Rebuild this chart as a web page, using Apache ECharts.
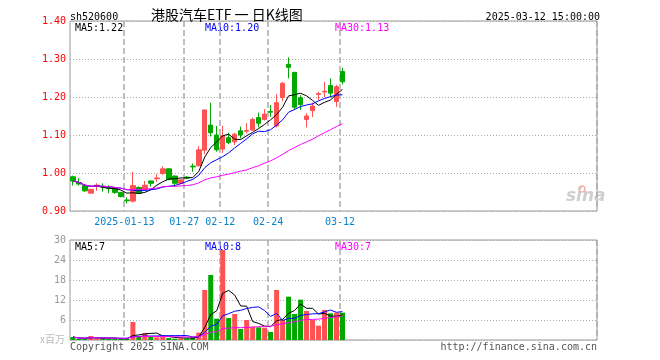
<!DOCTYPE html>
<html><head><meta charset="utf-8">
<script src="https://cdn.jsdelivr.net/npm/echarts@6/dist/echarts.min.js"></script>
<style>html,body{margin:0;padding:0;background:#fff}#c{width:660px;height:360px}</style>
</head><body><div id="c"></div>
<script>
const dates = ['2024-12-30','2024-12-31','2025-01-02','2025-01-03','2025-01-06','2025-01-07','2025-01-08','2025-01-09','2025-01-10','2025-01-13','2025-01-14','2025-01-15','2025-01-16','2025-01-17','2025-01-20','2025-01-21','2025-01-22','2025-01-23','2025-01-24','2025-01-27','2025-02-05','2025-02-06','2025-02-07','2025-02-10','2025-02-11','2025-02-12','2025-02-13','2025-02-14','2025-02-17','2025-02-18','2025-02-19','2025-02-20','2025-02-21','2025-02-24','2025-02-25','2025-02-26','2025-02-27','2025-02-28','2025-03-03','2025-03-04','2025-03-05','2025-03-06','2025-03-07','2025-03-10','2025-03-11','2025-03-12'];
const opens  = [0.990,0.975,0.967,0.947,0.966,0.965,0.961,0.960,0.949,0.929,0.926,0.962,0.957,0.979,0.985,0.999,1.011,0.992,0.973,0.989,1.018,1.019,1.060,1.126,1.100,1.063,1.093,1.082,1.111,1.110,1.113,1.146,1.141,1.162,1.124,1.199,1.286,1.265,1.198,1.141,1.164,1.207,1.213,1.230,1.188,1.267];
const closes = [0.979,0.971,0.953,0.957,0.968,0.963,0.959,0.949,0.938,0.927,0.967,0.947,0.968,0.973,0.987,1.011,0.983,0.973,0.982,0.987,1.016,1.061,1.166,1.106,1.061,1.098,1.080,1.102,1.100,1.112,1.141,1.131,1.155,1.160,1.185,1.236,1.278,1.173,1.180,1.150,1.176,1.209,1.215,1.210,1.227,1.240];
const lows   = [0.967,0.967,0.950,0.945,0.953,0.951,0.947,0.945,0.936,0.920,0.922,0.945,0.955,0.964,0.977,0.995,0.981,0.964,0.970,0.984,1.003,1.017,1.050,1.096,1.056,1.053,1.076,1.074,1.091,1.104,1.111,1.120,1.138,1.148,1.120,1.189,1.249,1.166,1.166,1.120,1.147,1.192,1.199,1.199,1.174,1.233];
const highs  = [0.993,0.986,0.970,0.958,0.973,0.973,0.968,0.962,0.950,0.936,1.003,0.965,0.979,0.980,0.997,1.017,1.012,0.993,0.984,0.992,1.025,1.071,1.166,1.185,1.124,1.124,1.106,1.106,1.122,1.131,1.146,1.159,1.168,1.179,1.208,1.240,1.304,1.265,1.205,1.157,1.185,1.214,1.240,1.249,1.232,1.277];
const ma5  = [0.979,0.975,0.968,0.965,0.966,0.962,0.960,0.959,0.955,0.947,0.948,0.946,0.949,0.956,0.968,0.977,0.984,0.985,0.987,0.987,0.988,1.004,1.042,1.067,1.082,1.098,1.102,1.089,1.088,1.098,1.107,1.117,1.128,1.140,1.154,1.173,1.203,1.206,1.210,1.203,1.191,1.178,1.186,1.192,1.207,1.220];
const ma10 = [0.979,0.975,0.968,0.965,0.966,0.965,0.964,0.962,0.960,0.956,0.955,0.953,0.954,0.956,0.958,0.963,0.965,0.967,0.972,0.978,0.983,0.994,1.014,1.027,1.035,1.043,1.053,1.066,1.078,1.090,1.103,1.110,1.109,1.114,1.126,1.140,1.160,1.167,1.175,1.179,1.182,1.190,1.196,1.201,1.205,1.206];
const ma30 = [0.979,0.975,0.968,0.965,0.966,0.965,0.964,0.962,0.960,0.956,0.957,0.957,0.957,0.959,0.960,0.964,0.965,0.965,0.966,0.967,0.969,0.974,0.982,0.987,0.990,0.994,0.997,1.001,1.005,1.008,1.014,1.019,1.026,1.032,1.040,1.049,1.059,1.067,1.075,1.082,1.089,1.098,1.106,1.114,1.122,1.130];
const volumes = [0.9,0.3,0.4,1.2,0.5,0.5,0.3,0.3,0.4,0.3,5.4,1.2,2.0,1.0,0.8,1.0,0.6,0.4,0.5,0.5,0.8,2.2,15.0,19.5,6.4,27.0,6.6,7.8,3.3,6.0,4.0,3.8,3.7,2.4,15.0,6.0,13.0,7.8,12.1,8.7,6.0,4.3,9.0,8.0,8.2,8.2];
const vma5  = [0.90,0.60,0.53,0.70,0.66,0.58,0.58,0.56,0.40,0.36,1.34,1.52,1.86,1.98,2.08,1.20,1.08,0.76,0.66,0.60,0.56,0.88,3.80,7.60,8.78,14.02,14.90,13.46,10.22,10.14,5.54,4.98,4.16,3.98,5.78,6.18,8.02,8.84,10.78,9.52,9.52,7.78,8.02,7.20,7.10,7.54];
const vma10 = [0.90,0.60,0.53,0.70,0.66,0.63,0.59,0.55,0.53,0.51,0.96,1.05,1.21,1.19,1.22,1.27,1.30,1.31,1.32,1.34,0.88,0.98,2.28,4.13,4.69,7.29,7.89,8.63,8.91,9.46,9.78,9.94,8.81,7.10,7.96,5.86,6.50,6.50,7.38,7.65,7.85,7.90,8.43,8.99,8.31,8.53];
const vma30 = [0.90,0.60,0.53,0.70,0.66,0.63,0.59,0.55,0.53,0.51,0.95,0.98,1.05,1.05,1.03,1.03,1.01,0.97,0.95,0.93,0.92,0.98,1.59,2.33,2.50,3.44,3.56,3.71,3.69,3.77,3.87,3.99,4.10,4.14,4.62,4.81,5.23,5.48,5.87,6.15,6.17,6.27,6.51,6.74,6.99,7.23];
const labelDates = ['2025-01-13','2025-01-27','2025-02-12','2025-02-24','2025-03-12'];
const priceAxis = {min: 0.9, max: 1.4, interval: 0.1};
const volAxis = {min: 0, max: 30, interval: 6};

const SLOTS = 88;
const cats = dates.slice();
for (let i = dates.length; i < SLOTS; i++) cats.push('pad' + i);
const labelIdx = new Set(labelDates.map(d => dates.indexOf(d)));
const UP = '#ff5252', DOWN = '#00a800';
const MONO = '"DejaVu Sans Mono", monospace';

const candleData = opens.map((o, i) => [o, closes[i], lows[i], highs[i]]);
const volData = volumes.map((v, i) => ({value: v, itemStyle: {color: closes[i] >= opens[i] ? UP : DOWN}}));

function xAxisCfg(gi, showLabel) {
  return {
    type: 'category', gridIndex: gi, data: cats, boundaryGap: true,
    axisLine: {show: false}, axisTick: {show: false},
    axisLabel: {
      show: showLabel, interval: (i) => labelIdx.has(i), color: '#0a84cc',
      fontFamily: MONO, fontSize: 10, margin: 6, padding: [0, 5, 0, 0],
      formatter: (v, i) => (dates.indexOf(v) === 9 ? v : v.slice(5))
    },
    splitLine: {show: true, interval: (i) => labelIdx.has(i),
      lineStyle: {color: '#aaa', width: 1.5, type: [6, 3]}}
  };
}
function lineS(data, color, xi, yi) {
  return {type: 'line', data, xAxisIndex: xi, yAxisIndex: yi, symbol: 'none', silent: true,
    lineStyle: {color, width: 1}, animation: false};
}

const chart = echarts.init(document.getElementById('c'));
chart.setOption({
  animation: false,
  backgroundColor: '#fff',
  grid: [
    {left: 70, top: 21, width: 527, height: 190, show: true, borderColor: '#999', borderWidth: 1},
    {left: 70, top: 240, width: 527, height: 100, show: true, borderColor: '#999', borderWidth: 1}
  ],
  xAxis: [xAxisCfg(0, true), xAxisCfg(1, false)],
  yAxis: [
    {type: 'value', gridIndex: 0, min: priceAxis.min, max: priceAxis.max, interval: priceAxis.interval,
      axisLine: {show: false}, axisTick: {show: false},
      axisLabel: {color: '#ff0000', fontFamily: MONO, fontSize: 10, margin: 4, formatter: v => v.toFixed(2)},
      splitLine: {lineStyle: {color: '#aaa', type: [1, 2]}}},
    {type: 'value', gridIndex: 1, min: volAxis.min, max: volAxis.max, interval: volAxis.interval,
      axisLine: {show: false}, axisTick: {show: false},
      axisLabel: {color: '#999', fontFamily: MONO, fontSize: 10, margin: 4,
        formatter: v => (v === 0 ? '' : String(v))},
      splitLine: {lineStyle: {color: '#aaa', type: [1, 2]}}}
  ],
  series: [
    {type: 'candlestick', xAxisIndex: 0, yAxisIndex: 0, data: candleData, barWidth: 5,
      itemStyle: {color: UP, color0: DOWN, borderColor: UP, borderColor0: DOWN, borderWidth: 1}},
    lineS(ma5, '#000000', 0, 0),
    lineS(ma10, '#0000ff', 0, 0),
    lineS(ma30, '#ff00ff', 0, 0),
    {type: 'bar', xAxisIndex: 1, yAxisIndex: 1, data: volData, barWidth: 5},
    lineS(vma5, '#000000', 1, 1),
    lineS(vma10, '#0000ff', 1, 1),
    lineS(vma30, '#ff00ff', 1, 1)
  ],
  graphic: [
    {type: 'text', left: 70, top: 12, style: {text: 'sh520600', font: '10px ' + MONO, fill: '#000'}},
    {type: 'text', left: 151, top: 8, style: {text: '港股汽车ETF 一 日K线图', font: '14px "Noto Sans CJK SC"', fill: '#000'}},
    {type: 'text', right: 60, top: 12, style: {text: '2025-03-12 15:00:00', font: '10px ' + MONO, fill: '#000'}},
    {type: 'text', left: 75, top: 23, style: {text: 'MA5:1.22', font: '10px ' + MONO, fill: '#000'}},
    {type: 'text', left: 205, top: 23, style: {text: 'MA10:1.20', font: '10px ' + MONO, fill: '#0000ff'}},
    {type: 'text', left: 335, top: 23, style: {text: 'MA30:1.13', font: '10px ' + MONO, fill: '#ff00ff'}},
    {type: 'text', left: 75, top: 242, style: {text: 'MA5:7', font: '10px ' + MONO, fill: '#000'}},
    {type: 'text', left: 205, top: 242, style: {text: 'MA10:8', font: '10px ' + MONO, fill: '#0000ff'}},
    {type: 'text', left: 335, top: 242, style: {text: 'MA30:7', font: '10px ' + MONO, fill: '#ff00ff'}},
    {type: 'text', right: 595, top: 334, style: {text: 'x百万', font: '10px "Noto Sans CJK SC"', fill: '#bbb'}},
    {type: 'text', left: 70, top: 342, style: {text: 'Copyright 2025 SINA.COM', font: '10px ' + MONO, fill: '#555'}},
    {type: 'text', right: 63, top: 342, style: {text: 'http://finance.sina.com.cn', font: '10px ' + MONO, fill: '#555'}},
    {type: 'text', left: 566, top: 188, style: {text: 'sina', font: 'italic bold 17px "DejaVu Sans"', fill: '#cfcfcf'}},
    {type: 'circle', shape: {cx: 582, cy: 189, r: 3}, style: {fill: 'none', stroke: '#f3b0b0', lineWidth: 1.5}}
  ]
});
</script>
</body></html>
